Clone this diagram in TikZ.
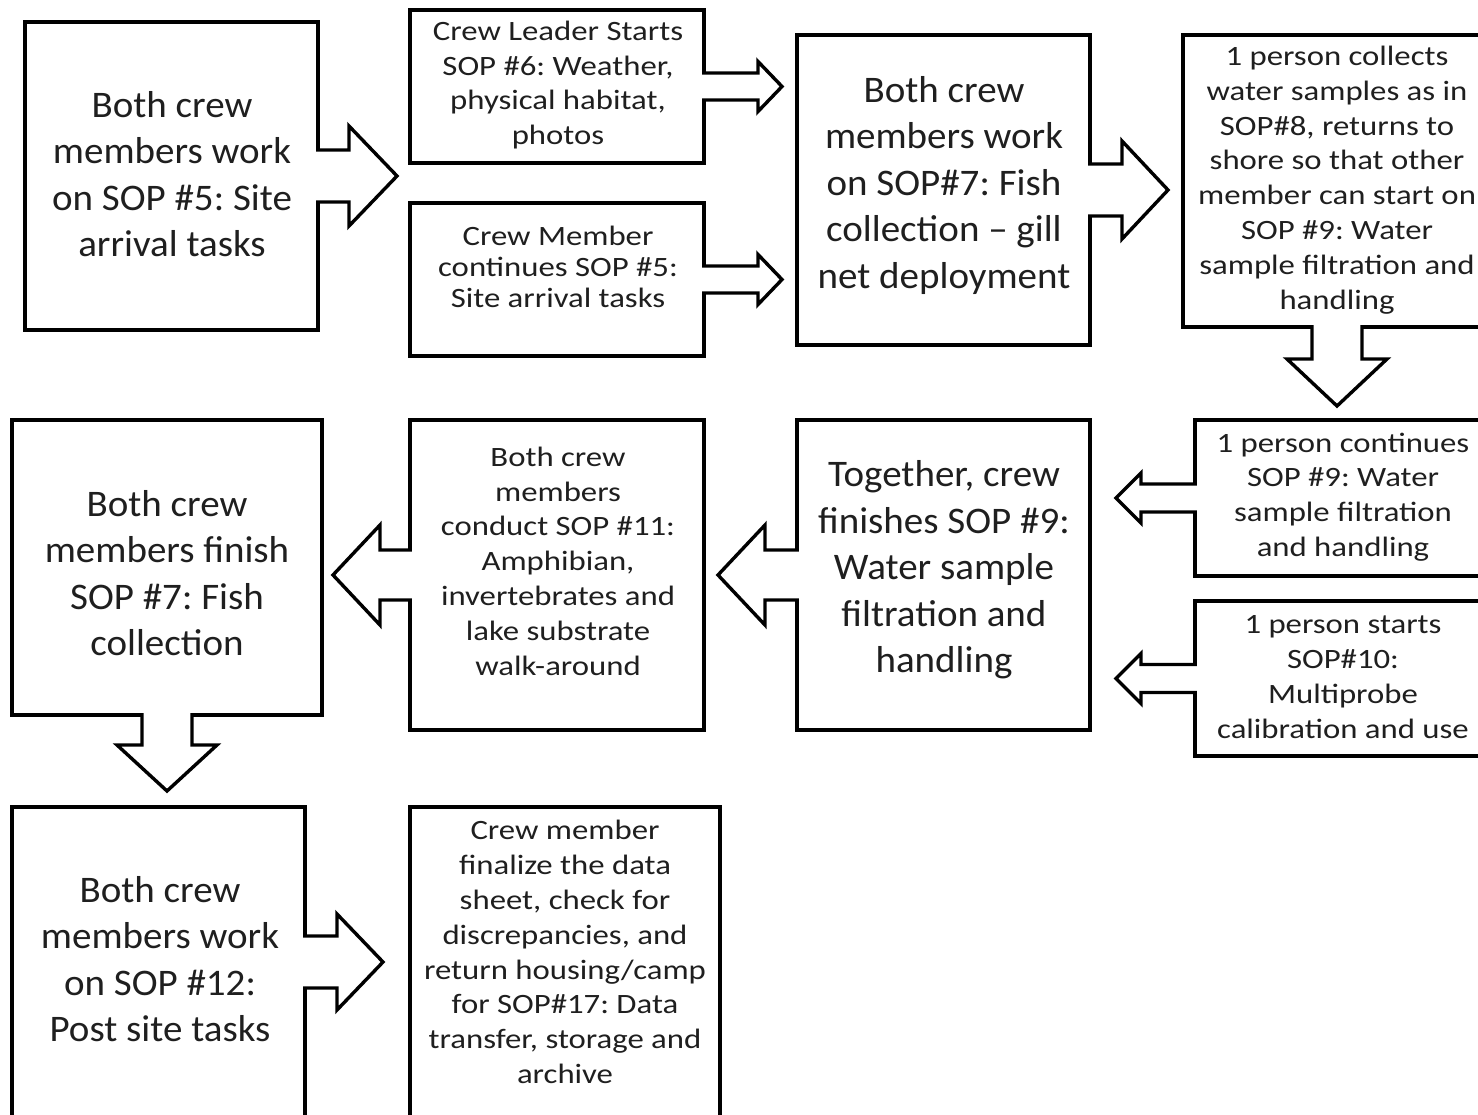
\documentclass[tikz,border=0pt]{standalone}
\usepackage{fontspec}
\setmainfont{Carlito}
\newfontfamily\bigfam[FakeStretch=1.04,Ligatures=TeX]{Carlito}
\newfontfamily\smallfam[FakeStretch=1.17,Ligatures=TeX]{Carlito}
\usetikzlibrary{calc}
\frenchspacing
\tikzset{
  box/.style={draw=black, line width=3.6pt, rectangle, inner sep=0pt, outer sep=0pt},
  bigtxt/.style={align=center, font=\bigfam\frenchspacing\fontsize{37.5}{46.5}\selectfont, inner sep=0pt, text=black!88},
  smalltxt/.style={align=center, font=\smallfam\frenchspacing\fontsize{28}{34.8}\selectfont, inner sep=0pt, text=black!88},
  arrowline/.style={draw=black, line width=3.4pt, line join=miter},
}
% #1 anchor, #2 rotation, #3 shaft length, #4 head length, #5 shaft half width, #6 head half width
\newcommand\blockarrow[6]{%
  \begin{scope}[shift={(#1)}, rotate=#2]
    \fill[white] (-2.4,-#5) -- (#3,-#5) -- (#3,-#6) -- (#3+#4,0) -- (#3,#6) -- (#3,#5) -- (-2.4,#5) -- cycle;
    \draw[arrowline] (-1.8,-#5) -- (#3,-#5) -- (#3,-#6) -- (#3+#4,0) -- (#3,#6) -- (#3,#5) -- (-1.8,#5);
  \end{scope}}
\begin{document}
\begin{tikzpicture}[x=1pt,y=-1pt]
\useasboundingbox[fill=white] (0,0) rectangle (1478,1114);
% boxes
\node[box, minimum width=293pt, minimum height=308pt] (A) at (171.5,176) {};
\node[box, minimum width=294pt, minimum height=153pt] (B) at (557,86.5) {};
\node[box, minimum width=294pt, minimum height=153pt] (C) at (557,279.5) {};
\node[box, minimum width=293pt, minimum height=310pt] (D) at (943.5,190) {};
\node[box, minimum width=308pt, minimum height=292pt] (E) at (1337,181) {};
\node[box, minimum width=296pt, minimum height=156pt] (F) at (1343,498) {};
\node[box, minimum width=296pt, minimum height=155pt] (G) at (1343,678.5) {};
\node[box, minimum width=293pt, minimum height=310pt] (H) at (943.5,575) {};
\node[box, minimum width=294pt, minimum height=310pt] (I) at (557,575) {};
\node[box, minimum width=310pt, minimum height=295pt] (J) at (167,567.5) {};
\node[box, minimum width=293pt, minimum height=310pt] (K) at (158.5,962) {};
\node[box, minimum width=310pt, minimum height=310pt] (L) at (565,962) {};
% block arrows
\blockarrow{A.east}{0}{31}{48}{26}{50}
\blockarrow{B.east}{0}{54}{24}{13.5}{25}
\blockarrow{C.east}{0}{54}{24}{13.5}{25}
\blockarrow{D.east}{0}{32}{46}{26}{49}
\blockarrow{E.south}{-90}{32}{47}{25}{50}
\blockarrow{F.west}{180}{54}{25}{14}{25}
\blockarrow{G.west}{180}{54}{25}{14}{25}
\blockarrow{H.west}{180}{32}{47}{25}{50}
\blockarrow{I.west}{180}{30}{47}{25}{50}
\blockarrow{J.south}{-90}{30}{46}{25}{50}
\blockarrow{K.east}{0}{32}{46}{26}{48}
% texts
\node[bigtxt] (tA) at (172,174) {Both crew\\members work\\on SOP \#5: Site\\arrival tasks};
\node[smalltxt] (tB) at (558,85) {Crew Leader Starts\\SOP \#6: Weather,\\physical habitat,\\photos};
\node[smalltxt, font=\smallfam\frenchspacing\fontsize{28}{31}\selectfont] (tC) at (558,267) {Crew Member\\continues SOP \#5:\\Site arrival tasks};
\node[bigtxt] (tD) at (944,185) {Both crew\\members work\\on SOP\#7: Fish\\collection – gill\\net deployment};
\node[smalltxt] (tE) at (1337,180) {1 person collects\\water samples as in\\SOP\#8, returns to\\shore so that other\\member can start on\\SOP \#9: Water\\sample filtration and\\handling};
\node[smalltxt] (tF) at (1343,497) {1 person continues\\SOP \#9: Water\\sample filtration\\and handling};
\node[smalltxt] (tG) at (1343,677) {1 person starts\\SOP\#10:\\Multiprobe\\calibration and use};
\node[bigtxt] (tH) at (944,570) {Together, crew\\finishes SOP \#9:\\Water sample\\filtration and\\handling};
\node[smalltxt] (tI) at (558,561) {Both crew\\members\\conduct SOP \#11:\\Amphibian,\\invertebrates and\\lake substrate\\walk-around};
\node[bigtxt] (tJ) at (167,573) {Both crew\\members finish\\SOP \#7: Fish\\collection};
\node[bigtxt] (tK) at (160,959) {Both crew\\members work\\on SOP \#12:\\Post site tasks};
\node[smalltxt] (tL) at (565,952) {Crew member\\finalize the data\\sheet, check for\\discrepancies, and\\return housing/camp\\for SOP\#17: Data\\transfer, storage and\\archive};
\end{tikzpicture}
\end{document}
